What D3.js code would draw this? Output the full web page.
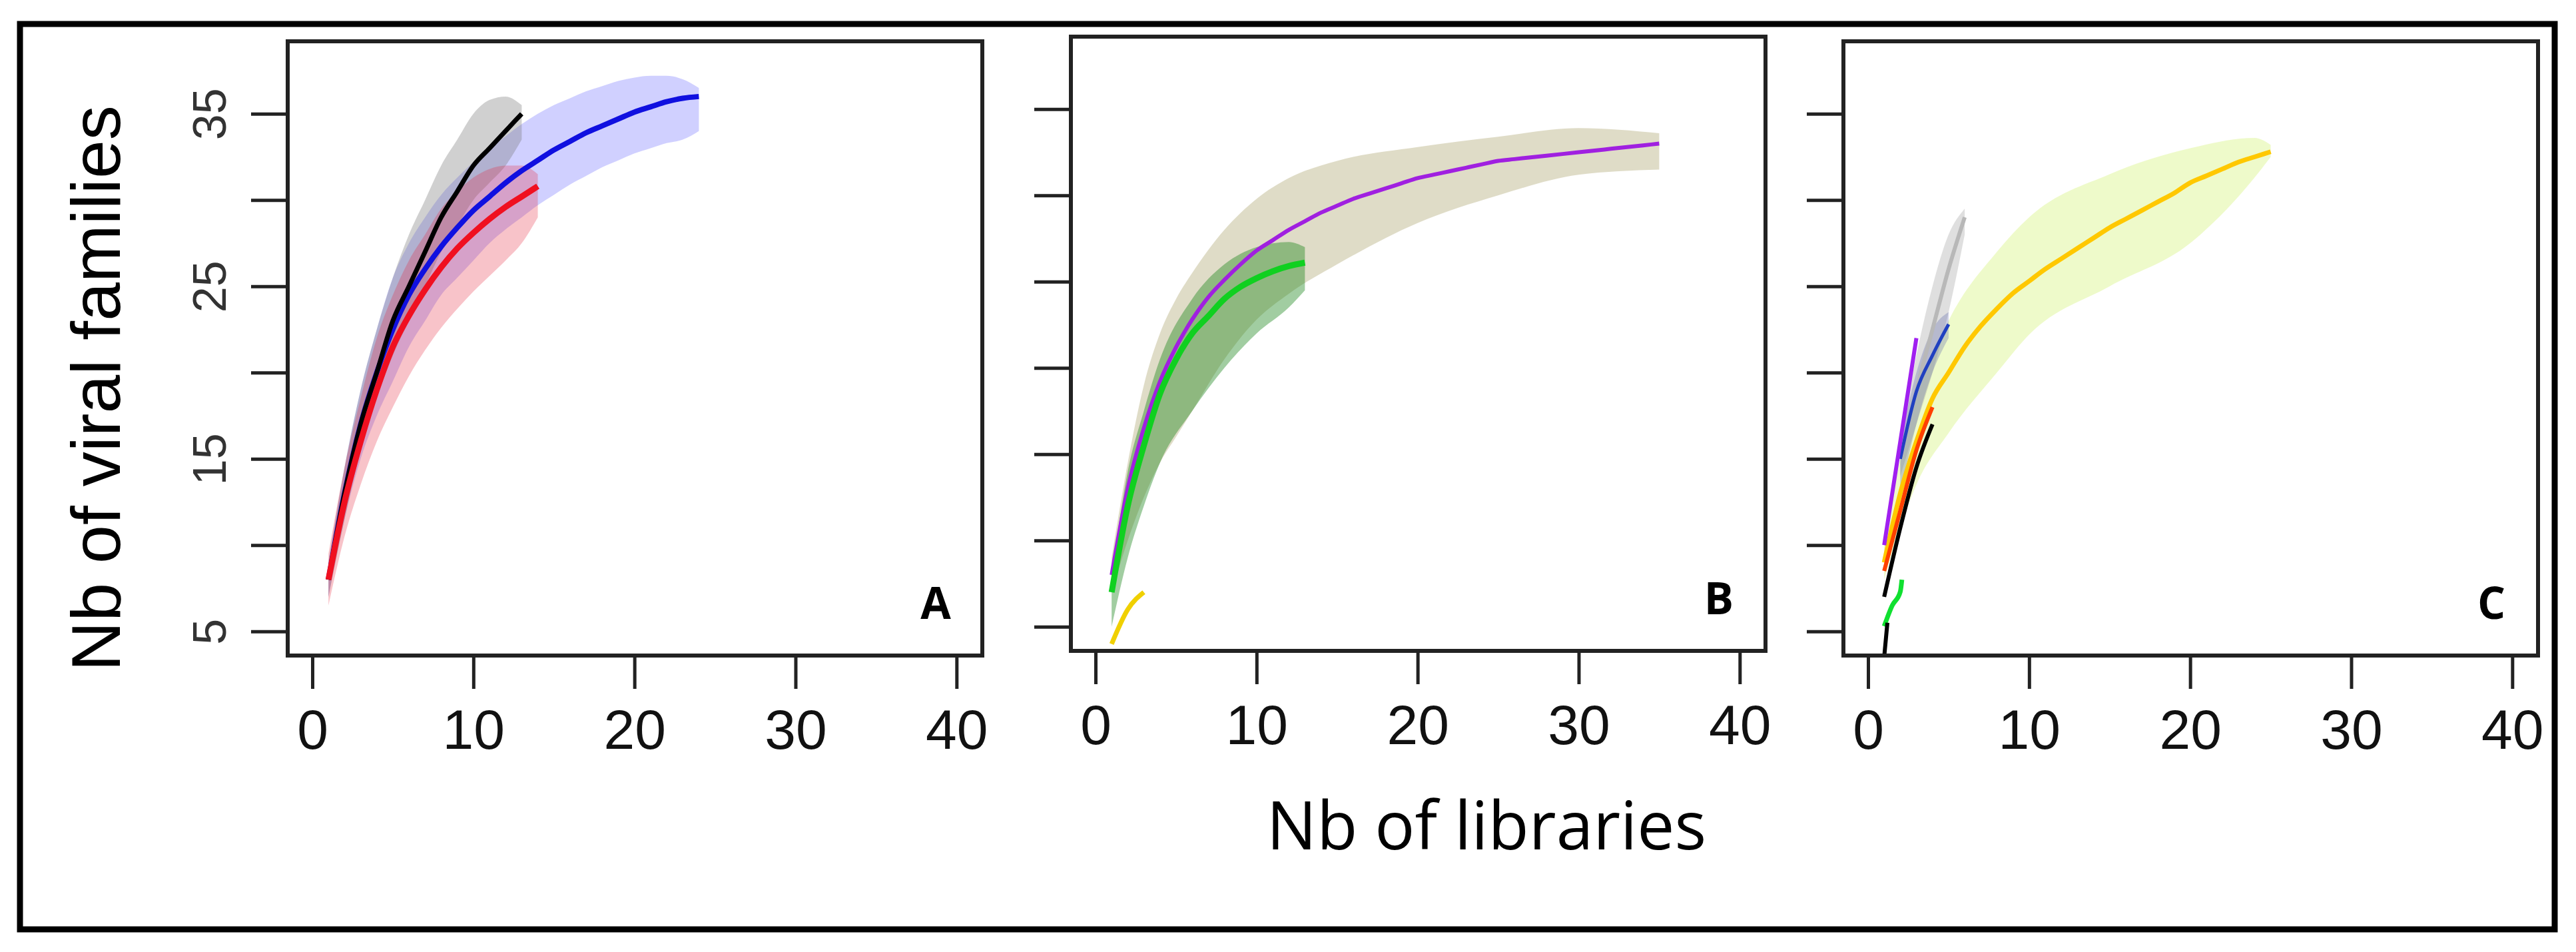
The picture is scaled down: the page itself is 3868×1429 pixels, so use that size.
<!DOCTYPE html>
<html><head><meta charset="utf-8">
<script src="https://cdn.jsdelivr.net/npm/d3@7"></script>
<style>body{margin:0;background:#fff}</style></head>
<body><svg id="chart" width="3868" height="1429"></svg>
<script>
// rarefaction curves, values
const xTicks = [0, 10, 20, 30, 40];
const yTicks = [5, 10, 15, 20, 25, 30, 35];
const yTickLabels = {5: '5', 15: '15', 25: '25', 35: '35'};

// panel A
const aBlackX = d3.range(1, 14);
const aBlack = [8, 13, 17, 20, 23, 25, 27, 29, 30.5, 32, 33, 34, 35];
const aGrayLo = [7, 11.5, 15.5, 18.5, 21, 23, 25, 27, 28.5, 30, 31, 32, 33.5];
const aGrayHi = [9, 14.5, 19, 22.5, 25.5, 28, 30, 32, 33.5, 35, 35.8, 36, 35.5];
const aBlueX = d3.range(1, 25);
const aBlue = [8, 13, 17, 20, 22.5, 24.5, 26, 27.3, 28.4, 29.4, 30.2, 31, 31.7, 32.3, 32.9, 33.4, 33.9, 34.3, 34.7, 35.1, 35.4, 35.7, 35.9, 36];
const aBlueLo = [7, 11.5, 15, 17.5, 19.5, 21.5, 23, 24.5, 25.5, 26.5, 27.5, 28.3, 29, 29.7, 30.3, 30.9, 31.4, 31.9, 32.3, 32.7, 33, 33.3, 33.5, 34];
const aBlueHi = [9, 14.5, 19, 22.5, 25.5, 27.5, 29, 30.3, 31.3, 32.2, 33, 33.7, 34.4, 35, 35.5, 35.9, 36.3, 36.6, 36.9, 37.1, 37.2, 37.2, 37, 36.5];
const aRedX = d3.range(1, 15);
const aRed = [8, 12.5, 16, 19, 21.5, 23.3, 24.8, 26.1, 27.2, 28.1, 28.9, 29.6, 30.2, 30.8];
const aRedLo = [6.5, 10.5, 13.5, 16, 18, 19.8, 21.3, 22.6, 23.7, 24.7, 25.6, 26.5, 27.5, 29];
const aRedHi = [9.5, 14.5, 18.5, 22, 24.5, 26.5, 28, 29.5, 30.5, 31.3, 31.8, 32, 32, 31.5];

// panel B
const bPurpleX = d3.range(1, 36);
const bPurple = [8, 13, 16.5, 19.2, 21.2, 22.8, 24.1, 25.1, 26, 26.8, 27.4, 28, 28.5, 29, 29.4, 29.8, 30.1, 30.4, 30.7, 31, 31.2, 31.4, 31.6, 31.8, 32, 32.1, 32.2, 32.3, 32.4, 32.5, 32.6, 32.7, 32.8, 32.9, 33];
const bKhakiX = [1, 2, 3, 4, 5, 6, 8, 10, 12, 15, 20, 25, 30, 35];
const bKhakiLo = [7, 10, 12.5, 14.5, 16, 17.5, 20.5, 22.8, 24.3, 26, 28.4, 30, 31.2, 31.5];
const bKhakiHi = [9, 14.5, 19, 22, 24, 25.5, 28, 29.8, 31, 32, 32.8, 33.4, 33.9, 33.6];
const bGreenX = d3.range(1, 14);
const bGreen = [7, 12, 15.5, 18.5, 20.5, 22, 23, 24, 24.7, 25.2, 25.6, 25.9, 26.1];
const bGreenBandX = [1, 2, 3, 4, 6, 8, 10, 12, 13];
const bGreenLo = [5, 9, 12, 14.5, 17.5, 20, 22, 23.5, 24.5];
const bGreenHi = [8, 14, 17.5, 20.5, 24, 26, 27, 27.3, 27];
const bYellowX = [1, 2, 3];
const bYellow = [4, 6, 7];

// panel C
const cYellowX = d3.range(1, 26);
const cYellow = [9, 13, 16, 18.5, 20, 21.5, 22.7, 23.7, 24.6, 25.3, 26, 26.6, 27.2, 27.8, 28.4, 28.9, 29.4, 29.9, 30.4, 31, 31.4, 31.8, 32.2, 32.5, 32.8];
const cYellowBandX = [1, 2, 3, 5, 8, 10, 15, 20, 24, 25];
const cYellowLo = [8, 11, 13.5, 16.5, 20, 22.2, 25, 27.5, 31.3, 32.5];
const cYellowHi = [10, 15, 18.5, 23, 27, 29, 31.5, 33, 33.6, 33.2];
const cGrayX = [2, 3, 4, 5, 6];
const cGray = [15, 19, 22.5, 26, 29];
const cGrayLo = [14, 17, 20, 23.5, 28];
const cGrayHi = [16, 21, 25, 28, 29.5];
const cBlueX = [2, 3, 4, 5];
const cBlue = [15, 18.9, 21, 22.8];
const cBlueLo = [13, 17, 20, 22];
const cBlueHi = [16, 20, 22.5, 23.5];
const cPurpleX = [1, 2, 3];
const cPurple = [10, 16, 22];
const cRedX = [1, 2, 3, 4];
const cRed = [8.5, 12, 15.5, 18];
const cBlackX = [1, 2, 3, 4];
const cBlack = [7, 11, 14.5, 17];
const cGreenX = [1, 1.5, 2, 2.1];
const cGreen = [5.3, 6.5, 7.3, 8];
const cBlack2X = [1, 1.2];
const cBlack2 = [3.5, 5.5];

const zip = (xs, ys) => xs.map((x, i) => [x, ys[i]]);
const zip3 = (xs, lo, hi) => xs.map((x, i) => [x, lo[i], hi[i]]);

const panels = [
  {label: 'A', left: 432, top: 62, yLabels: true,
   bands: [
     {d: zip3(aBlueX, aBlueLo, aBlueHi), fill: 'rgba(40,40,255,0.22)'},
     {d: zip3(aBlackX, aGrayLo, aGrayHi), fill: 'rgba(120,120,120,0.35)'},
     {d: zip3(aRedX, aRedLo, aRedHi), fill: 'rgba(230,40,60,0.28)'}],
   lines: [
     {d: zip(aBlueX, aBlue), stroke: '#1010e0', w: 8},
     {d: zip(aBlackX, aBlack), stroke: '#000', w: 7},
     {d: zip(aRedX, aRed), stroke: '#f01020', w: 9}]},
  {label: 'B', left: 1608, top: 55, yLabels: false,
   bands: [
     {d: zip3(bKhakiX, bKhakiLo, bKhakiHi), fill: 'rgba(150,140,70,0.3)'},
     {d: zip3(bGreenBandX, bGreenLo, bGreenHi), fill: 'rgba(20,130,20,0.4)'}],
   lines: [
     {d: zip(bPurpleX, bPurple), stroke: '#a020e0', w: 6},
     {d: zip(bGreenX, bGreen), stroke: '#10d020', w: 9},
     {d: zip(bYellowX, bYellow), stroke: '#f0d000', w: 7}]},
  {label: 'C', left: 2768, top: 62, yLabels: false,
   bands: [
     {d: zip3(cYellowBandX, cYellowLo, cYellowHi), fill: 'rgba(200,240,80,0.3)'},
     {d: zip3(cGrayX, cGrayLo, cGrayHi), fill: 'rgba(150,150,150,0.3)'},
     {d: zip3(cBlueX, cBlueLo, cBlueHi), fill: 'rgba(90,100,170,0.3)'}],
   lines: [
     {d: zip(cGrayX, cGray), stroke: '#b8b8b8', w: 6},
     {d: zip(cYellowX, cYellow), stroke: '#ffc800', w: 7},
     {d: zip(cBlueX, cBlue), stroke: '#2040c0', w: 5},
     {d: zip(cPurpleX, cPurple), stroke: '#a020f0', w: 6},
     {d: zip(cRedX, cRed), stroke: '#ff4000', w: 6},
     {d: zip(cBlackX, cBlack), stroke: '#000', w: 6},
     {d: zip(cGreenX, cGreen), stroke: '#10e030', w: 7},
     {d: zip(cBlack2X, cBlack2), stroke: '#000', w: 6}]}
];

const svg = d3.select('#chart');
svg.append('rect').attr('x', 30).attr('y', 36).attr('width', 3806).attr('height', 1359)
  .attr('fill', 'none').attr('stroke', '#000').attr('stroke-width', 9);

const W = 1043, H = 922;
panels.forEach(p => {
  const x = d3.scaleLinear().domain([-1.53, 41.6]).range([p.left, p.left + W]);
  const y = d3.scaleLinear().domain([3.6, 39.2]).range([p.top + H, p.top]);
  const g = svg.append('g');

  const area = d3.area().x(d => x(d[0])).y0(d => y(d[1])).y1(d => y(d[2])).curve(d3.curveMonotoneX);
  g.selectAll('path.band').data(p.bands).enter().append('path')
    .attr('d', b => area(b.d)).attr('fill', b => b.fill);
  const line = d3.line().x(d => x(d[0])).y(d => y(d[1])).curve(d3.curveMonotoneX);
  g.selectAll('path.ln').data(p.lines).enter().append('path')
    .attr('d', l => line(l.d)).attr('fill', 'none')
    .attr('stroke', l => l.stroke).attr('stroke-width', l => l.w);

  g.append('rect').attr('x', p.left).attr('y', p.top).attr('width', W).attr('height', H)
    .attr('fill', 'none').attr('stroke', '#222').attr('stroke-width', 6);

  // x axis sits below the box
  const xa = svg.append('g').attr('transform', `translate(0,${p.top + H})`)
    .call(d3.axisBottom(x).tickValues(xTicks).tickSize(50).tickPadding(30));
  xa.select('.domain').remove();
  xa.selectAll('line').attr('stroke', '#222').attr('stroke-width', 5);
  xa.selectAll('text').attr('font-family', 'Liberation Sans Narrow, Liberation Sans, sans-serif')
    .attr('font-size', 84).attr('fill', '#111').attr('transform', 'scale(1,1)');

  const ya = svg.append('g').attr('transform', `translate(${p.left},0)`)
    .call(d3.axisLeft(y).tickValues(yTicks).tickSize(55).tickFormat(d => p.yLabels ? (yTickLabels[d] || '') : ''));
  ya.select('.domain').remove();
  ya.selectAll('line').attr('stroke', '#222').attr('stroke-width', 5);
  ya.selectAll('text').attr('font-family', 'Liberation Sans, Arial, sans-serif').attr('font-size', 70)
    .attr('fill', '#333').attr('text-anchor', 'middle').attr('x', 0).attr('dy', 0)
    .attr('transform', 'translate(-145,0) rotate(-90)');
  ya.selectAll('.tick').each(function(d) {
    d3.select(this).select('text').attr('transform', `translate(-118,0) rotate(-90)`).attr('dy', '0.35em');
  });

  svg.append('text').attr('x', p.left + W - 70).attr('y', p.top + H - 55)
    .attr('text-anchor', 'middle').attr('font-family', 'Open Sans, sans-serif')
    .attr('font-weight', 'bold').attr('font-size', 66).text(p.label);
});

svg.append('text').attr('x', 2232).attr('y', 1275).attr('text-anchor', 'middle')
  .attr('font-family', 'Open Sans, sans-serif').attr('font-size', 100).text('Nb of libraries');
svg.append('text').attr('transform', 'translate(180,583) rotate(-90)').attr('text-anchor', 'middle')
  .attr('font-family', 'Liberation Sans, Arial, sans-serif').attr('font-size', 104).text('Nb of viral families');
</script></body></html>
